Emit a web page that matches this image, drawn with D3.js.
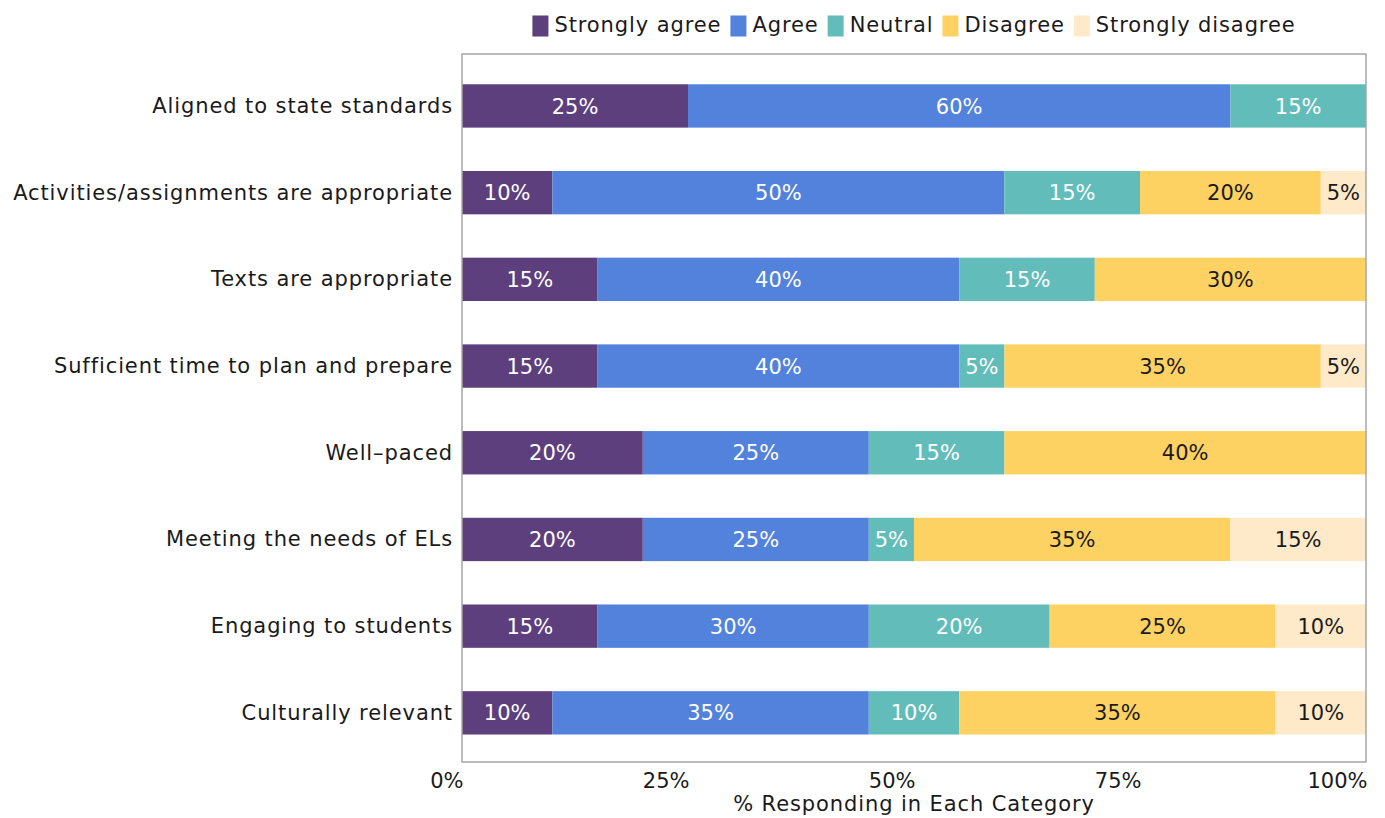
<!DOCTYPE html>
<html>
<head>
<meta charset="utf-8">
<script src="https://cdn.jsdelivr.net/npm/d3@7"></script>
<style>
  html, body { margin: 0; padding: 0; background: #fff; }
  svg text { font-family: "DejaVu Sans", "Noto Sans", sans-serif; }
</style>
</head>
<body>
<svg id="chart" width="1385" height="818"></svg>
<script>
// Survey items, top to bottom
const categories = [
  "Aligned to state standards",
  "Activities/assignments are appropriate",
  "Texts are appropriate",
  "Sufficient time to plan and prepare",
  "Well\u2013paced",
  "Meeting the needs of ELs",
  "Engaging to students",
  "Culturally relevant"
];

// Response levels
const levels = ["Strongly agree", "Agree", "Neutral", "Disagree", "Strongly disagree"];

// Percent responding per level, one entry per item
const stronglyAgree    = [25, 10, 15, 15, 20, 20, 15, 10];
const agree            = [60, 50, 40, 40, 25, 25, 30, 35];
const neutral          = [15, 15, 15,  5, 15,  5, 20, 10];
const disagree         = [ 0, 20, 30, 35, 40, 35, 25, 35];
const stronglyDisagree = [ 0,  5,  0,  5,  0, 15, 10, 10];

const xTicks = [0, 25, 50, 75, 100];
const xTitle = "% Responding in Each Category";

const colors = ["#5e3f7e", "#5282db", "#62bdba", "#fdd262", "#fee9c8"];
const labelColors = ["#ffffff", "#ffffff", "#ffffff", "#1a1a1a", "#1a1a1a"];

const seriesValues = [stronglyAgree, agree, neutral, disagree, stronglyDisagree];
const rows = categories.map((c, i) => {
  const r = { category: c };
  levels.forEach((l, j) => { r[l] = seriesValues[j][i]; });
  return r;
});

const stacked = d3.stack().keys(levels)(rows);

const svg = d3.select("#chart");
const frame = { left: 462, right: 1366, top: 54, bottom: 762 };
const FS = 21;
const LS = 0.9;   // letter spacing for word labels

const x = d3.scaleLinear().domain([0, 100]).range([frame.left, frame.right]);
const y = d3.scaleBand().domain(categories)
  .range([62.6, 756.2]).paddingInner(0.5).paddingOuter(0.25);

// Bars
const layers = svg.append("g").selectAll("g")
  .data(stacked).join("g")
  .attr("fill", (d, i) => colors[i]);

layers.selectAll("rect")
  .data(d => d.map(s => ({ s, key: d.key })))
  .join("rect")
  .attr("x", d => x(d.s[0]))
  .attr("y", d => y(d.s.data.category))
  .attr("width", d => x(d.s[1]) - x(d.s[0]))
  .attr("height", y.bandwidth());

// Segment value labels
stacked.forEach((layer, i) => {
  svg.append("g").selectAll("text")
    .data(layer.filter(s => s[1] - s[0] > 0))
    .join("text")
    .attr("x", s => (x(s[0]) + x(s[1])) / 2)
    .attr("y", s => y(s.data.category) + y.bandwidth() / 2)
    .attr("dy", "0.36em")
    .attr("text-anchor", "middle")
    .attr("font-size", FS)
    .attr("fill", labelColors[i])
    .text(s => (s[1] - s[0]) + "%");
});

// Panel border
svg.append("rect")
  .attr("x", frame.left).attr("y", frame.top)
  .attr("width", frame.right - frame.left)
  .attr("height", frame.bottom - frame.top)
  .attr("fill", "none").attr("stroke", "#a6a6a6").attr("stroke-width", 1.5);

// Category axis labels
svg.append("g").selectAll("text")
  .data(categories).join("text")
  .attr("x", frame.left - 9)
  .attr("y", d => y(d) + y.bandwidth() / 2 + 7)
  .attr("text-anchor", "end")
  .attr("font-size", FS)
  .attr("letter-spacing", LS)
  .attr("fill", "#1a1a1a")
  .text(d => d);

// Percent axis
const xAxis = d3.axisBottom(x).tickValues(xTicks)
  .tickFormat(d => d + "%").tickSize(0).tickPadding(0);
const gx = svg.append("g").attr("transform", `translate(0,${frame.bottom})`).call(xAxis);
gx.select(".domain").remove();
gx.selectAll("text")
  .attr("font-size", FS)
  .attr("font-family", null)
  .attr("fill", "#1a1a1a")
  .attr("text-anchor", "end")
  .attr("dx", 1)
  .attr("y", 26)
  .attr("dy", 0);

svg.append("text")
  .attr("x", (frame.left + frame.right) / 2)
  .attr("y", 811)
  .attr("text-anchor", "middle")
  .attr("font-size", FS)
  .attr("letter-spacing", LS)
  .attr("fill", "#1a1a1a")
  .text(xTitle);

// Legend, centred over the panel
const legend = svg.append("g");
const items = legend.selectAll("g").data(levels).join("g");
items.append("rect")
  .attr("width", 16).attr("height", 21)
  .attr("y", 15.5)
  .attr("fill", (d, i) => colors[i]);
items.append("text")
  .attr("x", 22).attr("y", 32)
  .attr("font-size", FS)
  .attr("letter-spacing", LS)
  .attr("fill", "#1a1a1a")
  .text(d => d);
let cursor = 0;
items.each(function () {
  const g = d3.select(this);
  g.attr("transform", `translate(${cursor},0)`);
  cursor += 22 + g.select("text").node().getComputedTextLength() + 9;
});
const legendWidth = cursor - 9;
legend.attr("transform", `translate(${(frame.left + frame.right) / 2 - legendWidth / 2},0)`);
</script>
</body>
</html>
